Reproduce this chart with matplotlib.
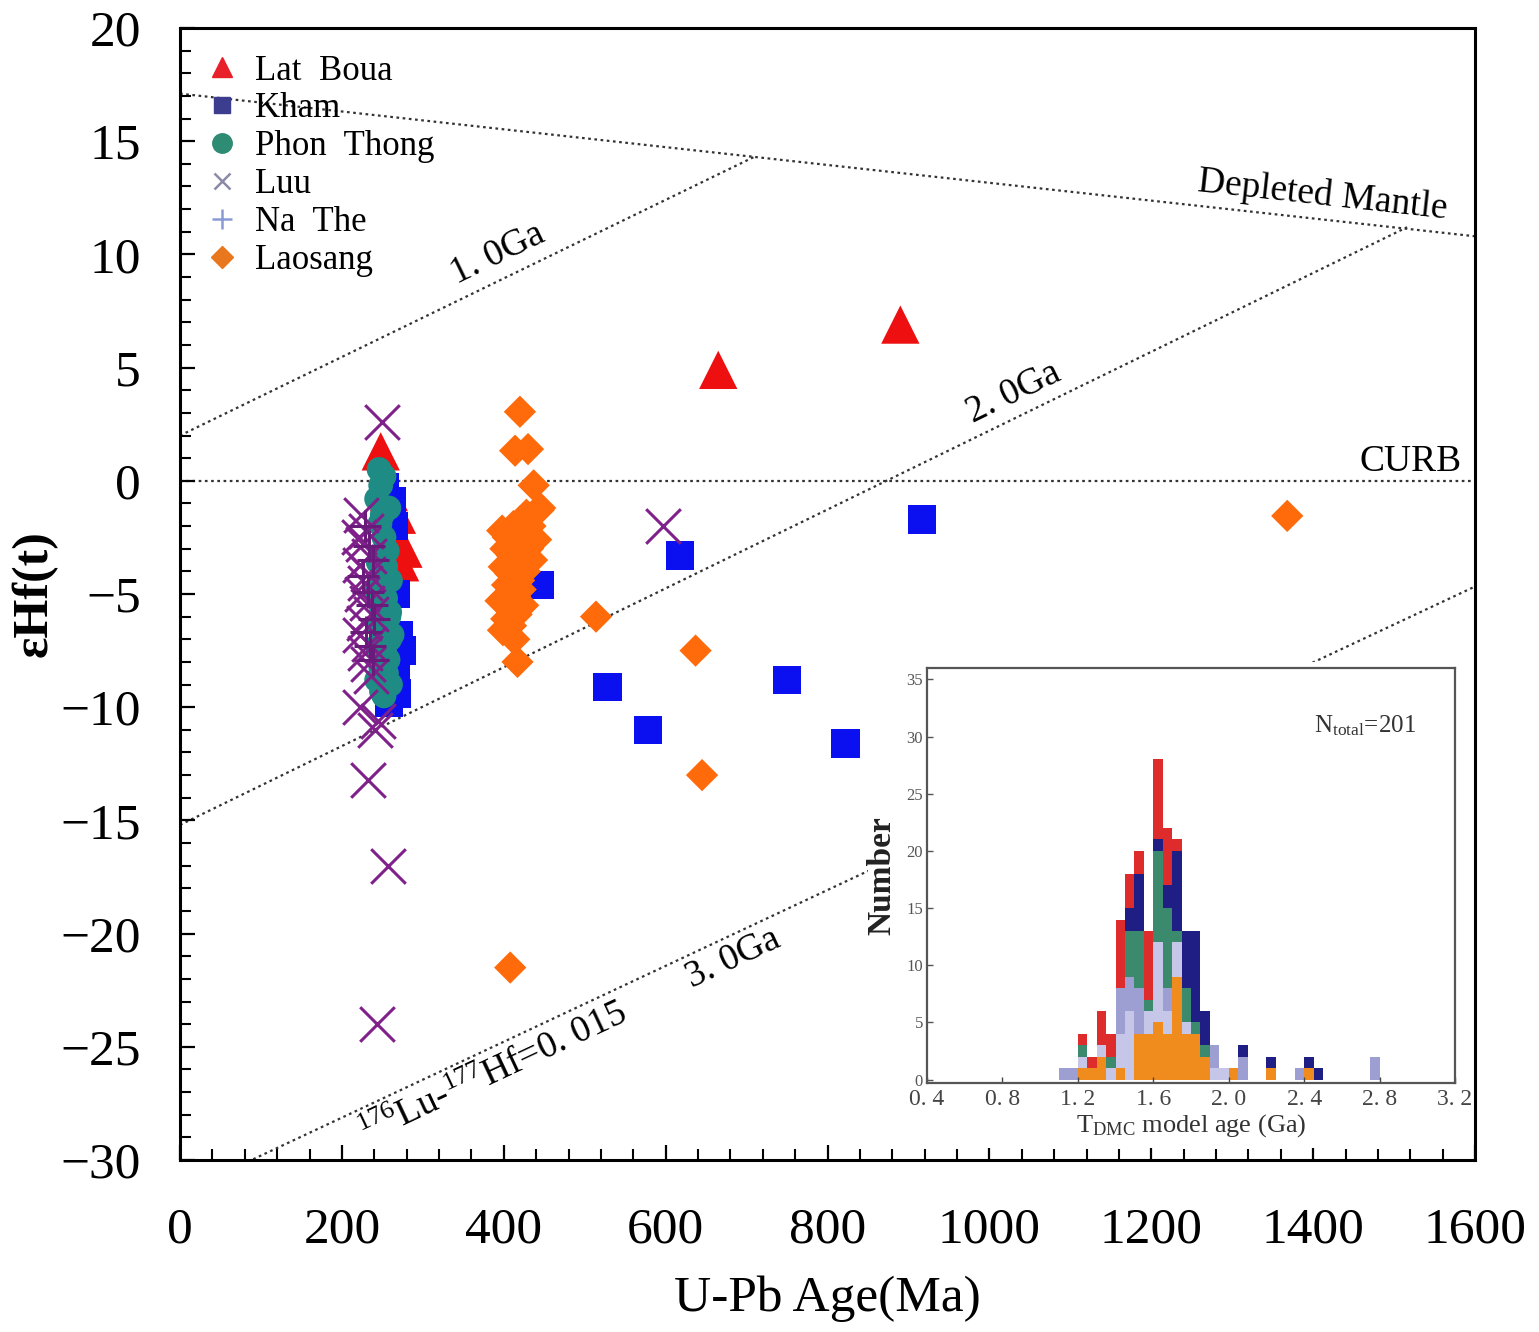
import numpy as np
import matplotlib
matplotlib.use("Agg")
import matplotlib.pyplot as plt
from matplotlib.lines import Line2D
from matplotlib.patches import Rectangle

plt.rcParams['font.family'] = ['Liberation Serif', 'DejaVu Serif']
plt.rcParams['mathtext.fontset'] = 'custom'
plt.rcParams['mathtext.rm'] = 'Liberation Serif'
plt.rcParams['mathtext.it'] = 'Liberation Serif:italic'
plt.rcParams['mathtext.bf'] = 'Liberation Serif:bold'

# ---------------- main scatter data ----------------
latboua_age = [665, 890, 248, 268, 276, 272, 262, 258]
latboua_ehf = [4.9, 6.9, 1.3, -1.5, -3.0, -3.6, -2.2, -0.5]

kham_age = [917, 618, 528, 578, 750, 822, 445, 268, 274, 253, 262, 266, 258, 270, 264, 267, 256]
kham_ehf = [-1.7, -3.3, -9.1, -11.0, -8.8, -11.6, -4.6, -9.4, -7.5, -0.3, -0.9, -8.6, -9.8, -6.8, -2.0, -5.0, -1.3]

phon_age = [246, 252, 243, 258, 247, 252, 256, 245, 250, 260, 242, 254, 249, 258, 246, 251,
            259, 244, 253, 257, 248, 255, 243, 260, 249, 252, 247, 259, 254, 250, 262, 248]
phon_ehf = [0.5, 0.2, -0.8, -1.2, -1.9, -2.5, -3.1, -3.6, -4.0, -4.4, -4.8, -5.2, -5.6, -6.0, -6.3, -6.7,
            -7.0, -7.3, -7.6, -7.9, -8.2, -8.5, -8.8, -9.0, -9.3, -9.5, -6.5, -5.8, -3.8, -1.5, -6.8, -0.2]

luu_age = [250, 244, 257, 232, 222, 245, 241, 597, 224, 230, 226, 234, 222, 232, 228, 225,
           231, 236, 227, 223, 233, 229, 232, 221, 236]
luu_ehf = [2.6, -24.0, -17.0, -13.2, -10.0, -10.6, -11.0, -2.0, -1.5, -2.2, -2.8, -3.3, -3.7, -4.1, -4.5, -5.0,
           -5.4, -5.9, -6.3, -6.8, -7.2, -7.6, -8.1, -2.5, -8.6]

nathe_age = [228, 234, 238, 226, 232, 237, 240, 230, 235, 238]
nathe_ehf = [-2.0, -2.9, -3.5, -4.2, -4.9, -5.5, -6.1, -6.7, -7.3, -7.9]

laosang_age = [1368, 637, 645, 514, 408, 420, 414, 430, 437, 443, 417,
               398, 405, 412, 420, 428, 402, 410, 418, 425, 433, 400, 408, 415, 422, 430,
               404, 411, 419, 426, 396, 407, 414, 421, 403, 409, 416, 440, 435, 445, 399, 413, 424]
laosang_ehf = [-1.55, -7.5, -13.0, -6.0, -21.5, 3.05, 1.33, 1.4, -0.2, -1.3, -8.0,
               -2.2, -2.5, -2.0, -1.8, -1.5, -3.0, -3.3, -2.8, -2.4, -2.0, -3.8, -4.1, -3.6, -3.2, -3.0,
               -4.6, -4.9, -4.4, -4.0, -5.3, -5.6, -5.1, -4.8, -6.1, -6.4, -5.9, -2.6, -3.5, -1.2, -6.6, -7.0, -5.5]

# reference lines (age Ma, eHf)
dm_age = [0, 1600]
dm_ehf = [17.1, 10.8]
ga1_age = [0, 709]
ga1_ehf = [2.0, 14.3]
ga2_age = [0, 1516]
ga2_ehf = [-15.2, 11.2]
ga3_age = [0, 1600]
ga3_ehf = [-31.48, -4.67]

x_ticks = [0, 200, 400, 600, 800, 1000, 1200, 1400, 1600]
x_ticklabels = ['0', '200', '400', '600', '800', '1000', '1200', '1400', '1600']
y_ticks = [20, 15, 10, 5, 0, -5, -10, -15, -20, -25, -30]
y_ticklabels = ['20', '15', '10', '5', '0', '\u22125', '\u221210', '\u221215', '\u221220', '\u221225', '\u221230']

# ---------------- inset histogram data (TDM model age, bins 0.05 Ga) ----------------
bin_left = [1.10, 1.15, 1.20, 1.25, 1.30, 1.35, 1.40, 1.45, 1.50, 1.55, 1.60, 1.65, 1.70, 1.75,
            1.80, 1.85, 1.90, 1.95, 2.00, 2.05, 2.20, 2.35, 2.40, 2.45, 2.75]
h_laosang = [0, 0, 1, 1, 2, 0, 1, 0, 4, 4, 5, 4, 9, 4, 4, 2, 0, 0, 1, 0, 1, 0, 1, 0, 0]
h_nathe   = [0, 0, 1, 0, 1, 1, 3, 6, 0, 2, 7, 2, 3, 1, 0, 0, 1, 1, 0, 0, 0, 0, 0, 0, 0]
h_luu     = [1, 1, 0, 0, 0, 0, 4, 3, 4, 0, 0, 2, 0, 0, 0, 0, 2, 0, 0, 2, 0, 1, 0, 0, 2]
h_phon    = [0, 0, 1, 0, 0, 1, 0, 4, 5, 1, 8, 7, 1, 3, 1, 1, 0, 0, 0, 0, 0, 0, 0, 0, 0]
h_kham    = [0, 0, 0, 0, 0, 0, 0, 2, 5, 0, 1, 2, 7, 5, 8, 3, 0, 0, 0, 1, 1, 0, 1, 1, 0]
h_latboua = [0, 0, 1, 1, 3, 2, 6, 3, 2, 6, 7, 5, 1, 0, 0, 0, 0, 0, 0, 0, 0, 0, 0, 0, 0]
bin_width = 0.05

in_xticks = [0.4, 0.8, 1.2, 1.6, 2.0, 2.4, 2.8, 3.2]
in_xticklabels = ['0. 4', '0. 8', '1. 2', '1. 6', '2. 0', '2. 4', '2. 8', '3. 2']
in_yticks = [0, 5, 10, 15, 20, 25, 30, 35]

# ---------------- figure ----------------
fig = plt.figure(figsize=(15.39, 13.32), dpi=100)
ax = fig.add_axes([180/1539, 1 - 1160/1332, (1475-180)/1539, (1160-28)/1332])
ax.set_xlim(0, 1600)
ax.set_ylim(-30, 20)

ls_dot = (0, (1.2, 1.6))
lc = '#333333'
for xa, ya in [(dm_age, dm_ehf), (ga1_age, ga1_ehf), (ga2_age, ga2_ehf), (ga3_age, ga3_ehf)]:
    ax.plot(xa, ya, linestyle=ls_dot, color=lc, lw=1.6, zorder=1)
ax.axhline(0, linestyle=ls_dot, color=lc, lw=1.6, zorder=1)

def slope_deg(xa, ya):
    return np.degrees(np.arctan((ya[1] - ya[0]) / (xa[1] - xa[0])))

tfs = 27
ax.text(1412, 12.6, 'Depleted Mantle', fontsize=tfs, ha='center', va='center',
        rotation=slope_deg(dm_age, dm_ehf), transform_rotates_text=True, rotation_mode='anchor', zorder=2)
ax.text(1520, 0.85, 'CURB', fontsize=tfs, ha='center', va='center', zorder=2)
ax.text(393, 10.0, '1. 0Ga', fontsize=tfs, ha='center', va='center',
        rotation=slope_deg(ga1_age, ga1_ehf), transform_rotates_text=True, rotation_mode='anchor', zorder=2)
ax.text(1030, 3.9, '2. 0Ga', fontsize=tfs, ha='center', va='center',
        rotation=slope_deg(ga2_age, ga2_ehf), transform_rotates_text=True, rotation_mode='anchor', zorder=2)
ax.text(684, -21.1, '3. 0Ga', fontsize=tfs, ha='center', va='center',
        rotation=slope_deg(ga3_age, ga3_ehf), transform_rotates_text=True, rotation_mode='anchor', zorder=2)
ax.text(387, -26.2, r'$^{176}$Lu-$^{177}$Hf=0. 015', fontsize=tfs, ha='center', va='center',
        rotation=slope_deg(ga3_age, ga3_ehf), transform_rotates_text=True, rotation_mode='anchor', zorder=2)

# scatter
ax.scatter(latboua_age, latboua_ehf, s=760, marker='^', color='#ee1010', edgecolors='none', zorder=3)
ax.scatter(kham_age, kham_ehf, s=420, marker='s', color='#0a10f0', edgecolors='none', zorder=3)
ax.scatter(phon_age, phon_ehf, s=320, marker='o', color='#1e8c84', edgecolors='none', zorder=3)
ax.scatter(luu_age, luu_ehf, s=620, marker='x', color='#80208a', linewidths=2.2, zorder=3)
ax.scatter(nathe_age, nathe_ehf, s=500, marker='+', color='#6a1a7a', linewidths=2.2, zorder=3)
ax.scatter(laosang_age, laosang_ehf, s=270, marker='D', color='#ff6a0a', edgecolors='none', zorder=3)

ax.set_xticks(x_ticks)
ax.set_xticklabels(x_ticklabels)
ax.set_yticks(y_ticks)
ax.set_yticklabels(y_ticklabels)
ax.set_xticks(np.arange(0, 1601, 40), minor=True)
ax.set_yticks(np.arange(-30, 21, 1), minor=True)
ax.tick_params(which='major', direction='in', length=11, width=1.6, labelsize=37,
               top=False, right=False)
ax.tick_params(axis='x', which='major', pad=34)
ax.tick_params(axis='y', which='major', pad=28)
ax.tick_params(which='minor', direction='in', length=8, width=1.5, top=False, right=False)
for sp in ax.spines.values():
    sp.set_linewidth(2.2)
    sp.set_zorder(4)

ax.set_xlabel('U-Pb Age(Ma)', fontsize=37, labelpad=16)
ax.set_ylabel('\u03b5Hf(t)', fontsize=36, fontweight='bold', labelpad=2)

handles = [
    Line2D([], [], marker='^', color='#e8202a', linestyle='none', markersize=15),
    Line2D([], [], marker='s', color='#3d3d8f', linestyle='none', markersize=12),
    Line2D([], [], marker='o', color='#2e8b74', linestyle='none', markersize=14),
    Line2D([], [], marker='x', color='#8a8aa8', linestyle='none', markersize=11, markeredgewidth=1.8),
    Line2D([], [], marker='+', color='#8a9ad6', linestyle='none', markersize=15, markeredgewidth=1.8),
    Line2D([], [], marker='D', color='#e8771e', linestyle='none', markersize=11),
]
labels = ['Lat  Boua', 'Kham', 'Phon  Thong', 'Luu', 'Na  The', 'Laosang']
leg = ax.legend(handles, labels, loc='upper left', bbox_to_anchor=(0.0, 0.998), frameon=False,
                fontsize=25, handlelength=1.0, handletextpad=0.45, labelspacing=0.14,
                borderaxespad=0.3)
leg.set_zorder(5)

# white background for inset area
ax.add_patch(Rectangle((868/1539, 1 - 1148/1332), (1472-868)/1539, (1148-662)/1332,
                       transform=fig.transFigure, facecolor='white', edgecolor='none', zorder=2.2))

# ---------------- inset ----------------
ins = fig.add_axes([927/1539, 1 - 1083/1332, (1455-927)/1539, (1083-668)/1332])
ins.set_zorder(6)
ins.set_facecolor('white')
stack = [(h_laosang, '#f08c1e'), (h_nathe, '#c5c6e8'), (h_luu, '#9d9fd2'),
         (h_phon, '#3b8a6e'), (h_kham, '#1e1e85'), (h_latboua, '#de2b2b')]
bottom = np.zeros(len(bin_left))
for h, c in stack:
    ins.bar(bin_left, h, width=bin_width, bottom=bottom, align='edge', color=c, edgecolor='none')
    bottom = bottom + np.array(h)
ins.set_xlim(0.4, 3.2)
ins.set_ylim(-0.3, 36)
ins.set_xticks(in_xticks)
ins.set_xticklabels(in_xticklabels)
ins.set_yticks(in_yticks)
ins.tick_params(axis='x', direction='in', length=4, width=1, labelsize=17, colors='#444444', pad=4)
ins.tick_params(axis='y', direction='in', length=4, width=1, labelsize=12, colors='#555555', pad=3)
for sp in ins.spines.values():
    sp.set_linewidth(1.6)
    sp.set_color('#555555')
ins.set_xlabel(r'T$_{\mathrm{DMC}}$ model age (Ga)', fontsize=19, color='#333333', labelpad=2)
ins.set_ylabel('Number', fontsize=24, fontweight='bold', color='#222222', labelpad=6)
ins.text(0.83, 0.86, r'N$_{\mathrm{total}}$=201', transform=ins.transAxes, fontsize=18,
         ha='center', va='center', color='#333333')

fig.savefig('out.png', dpi=100)
